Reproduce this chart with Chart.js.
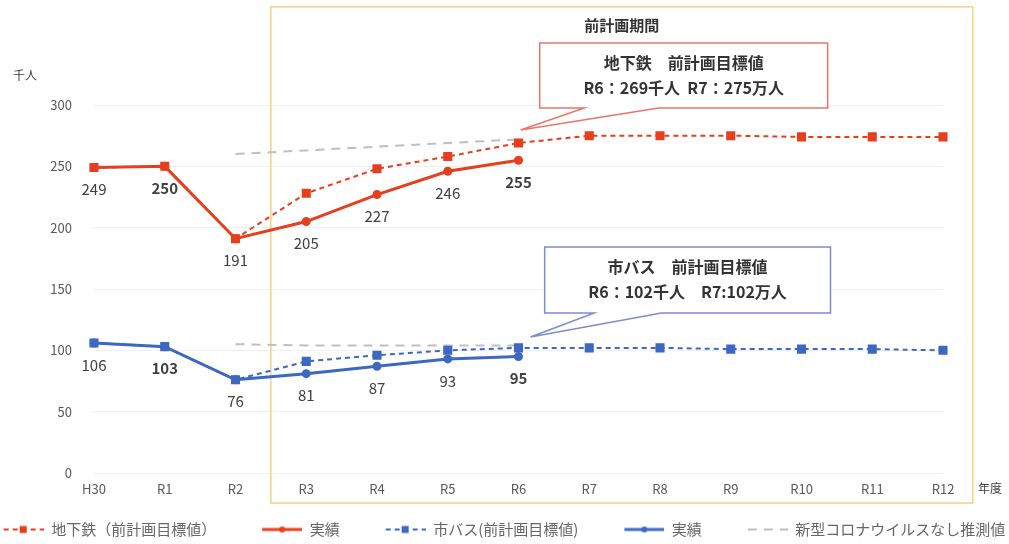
<!DOCTYPE html>
<html lang="ja">
<head>
<meta charset="utf-8">
<script src="https://cdn.jsdelivr.net/npm/chart.js@4.4.1/dist/chart.umd.min.js"></script>
<style>
  html, body { margin: 0; padding: 0; background: #fff; }
  #wrap { width: 1009px; height: 544px; position: relative; }
</style>
</head>
<body>
<div id="wrap"><canvas id="chart"></canvas></div>
<script>
// 年度
const years = ['H30', 'R1', 'R2', 'R3', 'R4', 'R5', 'R6', 'R7', 'R8', 'R9', 'R10', 'R11', 'R12'];
const yTicks = [0, 50, 100, 150, 200, 250, 300];

// 地下鉄（千人）
const subwayTarget = [249, 250, 191, 228, 248, 258, 269, 275, 275, 275, 274, 274, 274];
const subwayActual = [249, 250, 191, 205, 227, 246, 255];
const subwayNoCovid = [null, null, 260, 263, 266, 269, 272];

// 市バス（千人）
const busTarget = [106, 103, 76, 91, 96, 100, 102, 102, 102, 101, 101, 101, 100];
const busActual = [106, 103, 76, 81, 87, 93, 95];
const busNoCovid = [null, null, 105, 104, 104, 104, 104];

const legendNames = ['地下鉄（前計画目標値）', '実績', '市バス(前計画目標値)', '実績', '新型コロナウイルスなし推測値'];

const RED = '#e63f1e';
const BLUE = '#3d68c2';
const GRAY = '#bcbfc3';
const JP = '"Noto Sans CJK JP", "Noto Sans", sans-serif';

// 凡例のマーカー画像（左側は項目間の余白）
const ICON_GAP = 26;
function legendIcon(color, dash, marker, width) {
  const c = document.createElement('canvas');
  c.width = 40 + ICON_GAP;
  c.height = 12;
  const g = c.getContext('2d');
  g.translate(ICON_GAP, 0);
  g.strokeStyle = color;
  g.lineWidth = width;
  g.setLineDash(dash);
  g.beginPath();
  g.moveTo(0, 6);
  g.lineTo(40, 6);
  g.stroke();
  g.fillStyle = color;
  if (marker === 'rect') g.fillRect(16, 2.5, 7, 7);
  if (marker === 'circle') {
    g.beginPath();
    g.arc(20, 6, 3, 0, Math.PI * 2);
    g.fill();
  }
  return c;
}

const icons = [
  legendIcon(RED, [5, 4], 'rect', 2),
  legendIcon(RED, [], 'circle', 3),
  legendIcon(BLUE, [5, 4], 'rect', 2),
  legendIcon(BLUE, [], 'circle', 3),
  legendIcon(GRAY, [9, 7], null, 2),
];

// 枠・吹き出し・数値ラベル
const overlayPlugin = {
  id: 'overlay',
  beforeDatasetsDraw(chart) {
    const { ctx, scales: { x, y } } = chart;
    const l = x.getPixelForValue(2.5), r = x.getPixelForValue(12.42);
    const t = y.getPixelForValue(380), b = y.getPixelForValue(-24.5);
    ctx.save();
    ctx.strokeStyle = '#f7d27a';
    ctx.lineWidth = 1.5;
    ctx.strokeRect(l, t, r - l, b - t);
    ctx.fillStyle = '#333';
    ctx.font = `bold 15px ${JP}`;
    ctx.textAlign = 'center';
    ctx.textBaseline = 'middle';
    ctx.fillText('前計画期間', (l + r) / 2, t + 18);
    ctx.restore();
  },
  afterDatasetsDraw(chart) {
    const { ctx, scales: { x, y } } = chart;
    ctx.save();

    // 実績の数値
    ctx.fillStyle = '#404040';
    ctx.textAlign = 'center';
    ctx.textBaseline = 'middle';
    [1, 3].forEach((di) => {
      const values = chart.data.datasets[di].data;
      chart.getDatasetMeta(di).data.forEach((pt, j) => {
        const bold = j === 1 || j === values.length - 1;
        ctx.font = `${bold ? 'bold ' : ''}15px ${JP}`;
        ctx.fillText(String(values[j]), pt.x, pt.y + 22);
      });
    });

    // 吹き出し
    const callout = (box, color, lines) => {
      const l = x.getPixelForValue(box.x0), r = x.getPixelForValue(box.x1);
      const t = y.getPixelForValue(box.y0), b = y.getPixelForValue(box.y1);
      const pa = x.getPixelForValue(box.pa), pb = x.getPixelForValue(box.pb);
      const tx = x.getPixelForValue(box.tx), ty = y.getPixelForValue(box.ty);
      ctx.beginPath();
      ctx.moveTo(l, t);
      ctx.lineTo(r, t);
      ctx.lineTo(r, b);
      ctx.lineTo(pb, b);
      ctx.lineTo(tx, ty);
      ctx.lineTo(pa, b);
      ctx.lineTo(l, b);
      ctx.closePath();
      ctx.fillStyle = '#fff';
      ctx.fill();
      ctx.strokeStyle = color;
      ctx.lineWidth = 1.5;
      ctx.stroke();
      ctx.fillStyle = '#333';
      ctx.font = `bold 16px ${JP}`;
      const cx = (l + r) / 2;
      ctx.fillText(lines[0], cx, t + 20);
      ctx.fillText(lines[1], cx, t + 45);
    };
    callout({ x0: 6.30, x1: 10.37, y0: 350.5, y1: 297.6, pa: 6.93, pb: 7.98, tx: 6.03, ty: 279.6 },
      '#e7756b', ['地下鉄　前計画目標値', 'R6：269千人  R7：275万人']);
    callout({ x0: 6.37, x1: 10.41, y0: 184.2, y1: 130.4, pa: 7.07, pb: 8.02, tx: 6.17, ty: 110.9 },
      '#7d8ccc', ['市バス　前計画目標値', 'R6：102千人　R7:102万人']);

    // 単位
    ctx.fillStyle = '#404040';
    ctx.font = `12px ${JP}`;
    ctx.fillText('千人', 25, 75);
    ctx.fillText('年度', 990, y.getPixelForValue(0) + 15);
    ctx.restore();
  },
};

const ctx = document.getElementById('chart').getContext('2d');
new Chart(ctx, {
  type: 'line',
  data: {
    labels: years,
    datasets: [
      {
        label: legendNames[0],
        data: subwayTarget,
        borderColor: RED,
        backgroundColor: RED,
        borderWidth: 2,
        borderDash: [5, 4],
        pointStyle: 'rect',
        pointRadius: 5,
      },
      {
        label: legendNames[1],
        data: subwayActual,
        borderColor: RED,
        backgroundColor: RED,
        borderWidth: 3,
        pointStyle: 'circle',
        pointRadius: 3,
      },
      {
        label: legendNames[2],
        data: busTarget,
        borderColor: BLUE,
        backgroundColor: BLUE,
        borderWidth: 2,
        borderDash: [5, 4],
        pointStyle: 'rect',
        pointRadius: 5,
      },
      {
        label: legendNames[3],
        data: busActual,
        borderColor: BLUE,
        backgroundColor: BLUE,
        borderWidth: 3,
        pointStyle: 'circle',
        pointRadius: 3,
      },
      {
        label: legendNames[4],
        data: subwayNoCovid,
        borderColor: GRAY,
        borderWidth: 2,
        borderDash: [9, 7],
        pointRadius: 0,
      },
      {
        label: legendNames[4],
        data: busNoCovid,
        borderColor: GRAY,
        borderWidth: 2,
        borderDash: [9, 7],
        pointRadius: 0,
      },
    ],
  },
  options: {
    animation: false,
    responsive: true,
    maintainAspectRatio: false,
    layout: { padding: { left: -56, right: -30, top: 105, bottom: -3 } },
    plugins: {
      tooltip: { enabled: false },
      legend: {
        position: 'bottom',
        labels: {
          usePointStyle: true,
          pointStyleWidth: 40 + ICON_GAP,
          padding: 20,
          color: '#666',
          font: { family: JP, size: 15 },
          generateLabels: (chart) => Chart.defaults.plugins.legend.labels.generateLabels(chart)
            .map((item) => ({ ...item, pointStyle: icons[Math.min(item.datasetIndex, 4)] })),
          filter: (item) => item.datasetIndex !== 5,
        },
      },
    },
    scales: {
      x: {
        offset: false,
        grid: { display: false },
        border: { display: false },
        ticks: { color: '#595959', padding: 0, font: { family: JP, size: 13 }, maxRotation: 0, autoSkip: false },
        afterFit: (scale) => { scale.height = 29; },
      },
      y: {
        min: 0,
        max: 300,
        grid: { color: '#efefef', drawTicks: false },
        border: { display: false },
        ticks: { color: '#595959', padding: 22, font: { family: JP, size: 13 } },
        afterBuildTicks: (scale) => { scale.ticks = yTicks.map((v) => ({ value: v })); },
        afterFit: (scale) => { scale.width = 150; },
      },
      yR: {
        position: 'right',
        min: 0,
        max: 1,
        grid: { display: false },
        border: { display: false },
        ticks: { display: false },
        afterFit: (scale) => { scale.width = 96; },
      },
    },
  },
  plugins: [overlayPlugin],
});
</script>
</body>
</html>
